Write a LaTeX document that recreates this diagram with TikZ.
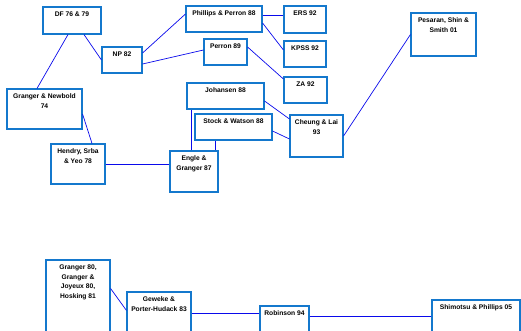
\documentclass[tikz,border=0pt]{standalone}
\usepackage{fontspec}
\setmainfont{Liberation Sans}
\usepackage{tikz}
\definecolor{boxblue}{RGB}{20,120,205}
\definecolor{lineblue}{RGB}{10,10,235}
\tikzstyle{paper} = [rectangle, draw=boxblue, line width=1.1pt, fill=white, inner sep=0pt]
\tikzstyle{title} = [anchor=north, inner sep=2.2pt, yshift=-3pt, align=center, font=\fontsize{6.7}{9.7}\selectfont\bfseries]
\tikzstyle{link} = [draw=lineblue, line width=0.7pt]

\begin{document}
\begin{tikzpicture}[x=1pt, y=-1pt]
	\useasboundingbox (0,0) rectangle (521,330);
	\clip (0,0) rectangle (521,330);

	% unit root / cointegration tree
	\node(df) [paper, minimum width=58, minimum height=27, label={[title]north:DF 76 \& 79}] at (72,20.5) {};
	\node(np) [paper, minimum width=40, minimum height=26, label={[title]north:NP 82}] at (122,60) {};
	\node(ph) [paper, minimum width=76, minimum height=26, label={[title]north:Phillips \& Perron 88}] at (224,19) {};
	\node(pe) [paper, minimum width=43, minimum height=26, label={[title]north:Perron 89}] at (225.5,52) {};
	\node(ers) [paper, minimum width=42, minimum height=27, label={[title]north:ERS 92}] at (305,19.5) {};
	\node(kpss) [paper, minimum width=42, minimum height=26, label={[title]north:KPSS 92}] at (305,54) {};
	\node(za) [paper, minimum width=43, minimum height=26, label={[title]north:ZA 92}] at (305.5,90) {};
	\node(pss) [paper, minimum width=65, minimum height=43, label={[title]north:Pesaran, Shin \&\\Smith 01}] at (443.5,34.5) {};
	\node(jo) [paper, minimum width=77, minimum height=26, label={[title]north:Johansen 88}] at (225.5,96) {};
	\node(sw) [paper, minimum width=77, minimum height=26, label={[title]north:Stock \& Watson 88}] at (233.5,127) {};
	\node(cl) [paper, minimum width=53, minimum height=42, label={[title]north:Cheung \& Lai\\93}] at (316.5,136) {};
	\node(eg) [paper, minimum width=48, minimum height=41, label={[title]north:Engle \&\\Granger 87}] at (194,171.5) {};
	\node(hsy) [paper, minimum width=54, minimum height=40, label={[title]north:Hendry, Srba\\\& Yeo 78}] at (78,164) {};
	\node(gn) [paper, minimum width=75, minimum height=40, label={[title]north:Granger \& Newbold\\74}] at (44.5,109) {};

	% long memory chain
	\node(gr) [paper, minimum width=64, minimum height=90, label={[title]north:Granger 80,\\Granger \&\\Joyeux 80,\\Hosking 81}] at (78,305) {};
	\node(gph) [paper, minimum width=64, minimum height=60, label={[title]north:Geweke \&\\Porter-Hudack 83}] at (159,322) {};
	\node(rob) [paper, minimum width=49, minimum height=60, label={[title]north:Robinson 94}] at (284.5,336) {};
	\node(sp) [paper, minimum width=88, minimum height=60, label={[title]north:Shimotsu \& Phillips 05}] at (476,330) {};

	\draw[link] ([xshift=-4pt]df.south) -- ([xshift=-7.5pt]gn.north);
	\draw[link] ([xshift=12pt]df.south) -- (np.west);
	\draw[link] ([yshift=7pt]np.east) -- ([yshift=5pt]ph.west);
	\draw[link] ([yshift=-4pt]np.east) -- ([yshift=2pt]pe.west);
	\draw[link] ([yshift=4pt]ph.east) -- ([yshift=4pt]ph.east -| ers.west);
	\draw[link] ([yshift=-4pt]ph.east) -- ([yshift=4pt]kpss.west);
	\draw[link] ([yshift=5pt]pe.east) -- ([yshift=11pt]za.west);
	\draw[link] ([yshift=-5pt]gn.east) -- ([xshift=14pt]hsy.north);
	\draw[link] (hsy.east) -- (hsy.east -| eg.west);
	\draw[link] ([xshift=-3pt]eg.north) -- ([xshift=-3pt]eg.north |- jo.south);
	\draw[link] ([xshift=21pt]eg.north) -- ([xshift=21pt]eg.north |- sw.south);
	\draw[link] ([yshift=-5pt]jo.east) -- ([yshift=17pt]cl.west);
	\draw[link] ([yshift=-4pt]sw.east) -- ([yshift=-3pt]cl.west);
	\draw[link] (cl.east) -- (pss.west);
	\draw[link] ([yshift=-29pt]gr.north east) -- ([yshift=-19pt]gph.north west);
	\draw[link] ([yshift=-22pt]gph.north east) -- ([yshift=-22pt]gph.north east -| rob.west);
	\draw[link] ([yshift=-11pt]rob.north east) -- ([yshift=-11pt]rob.north east -| sp.west);
\end{tikzpicture}
\end{document}
